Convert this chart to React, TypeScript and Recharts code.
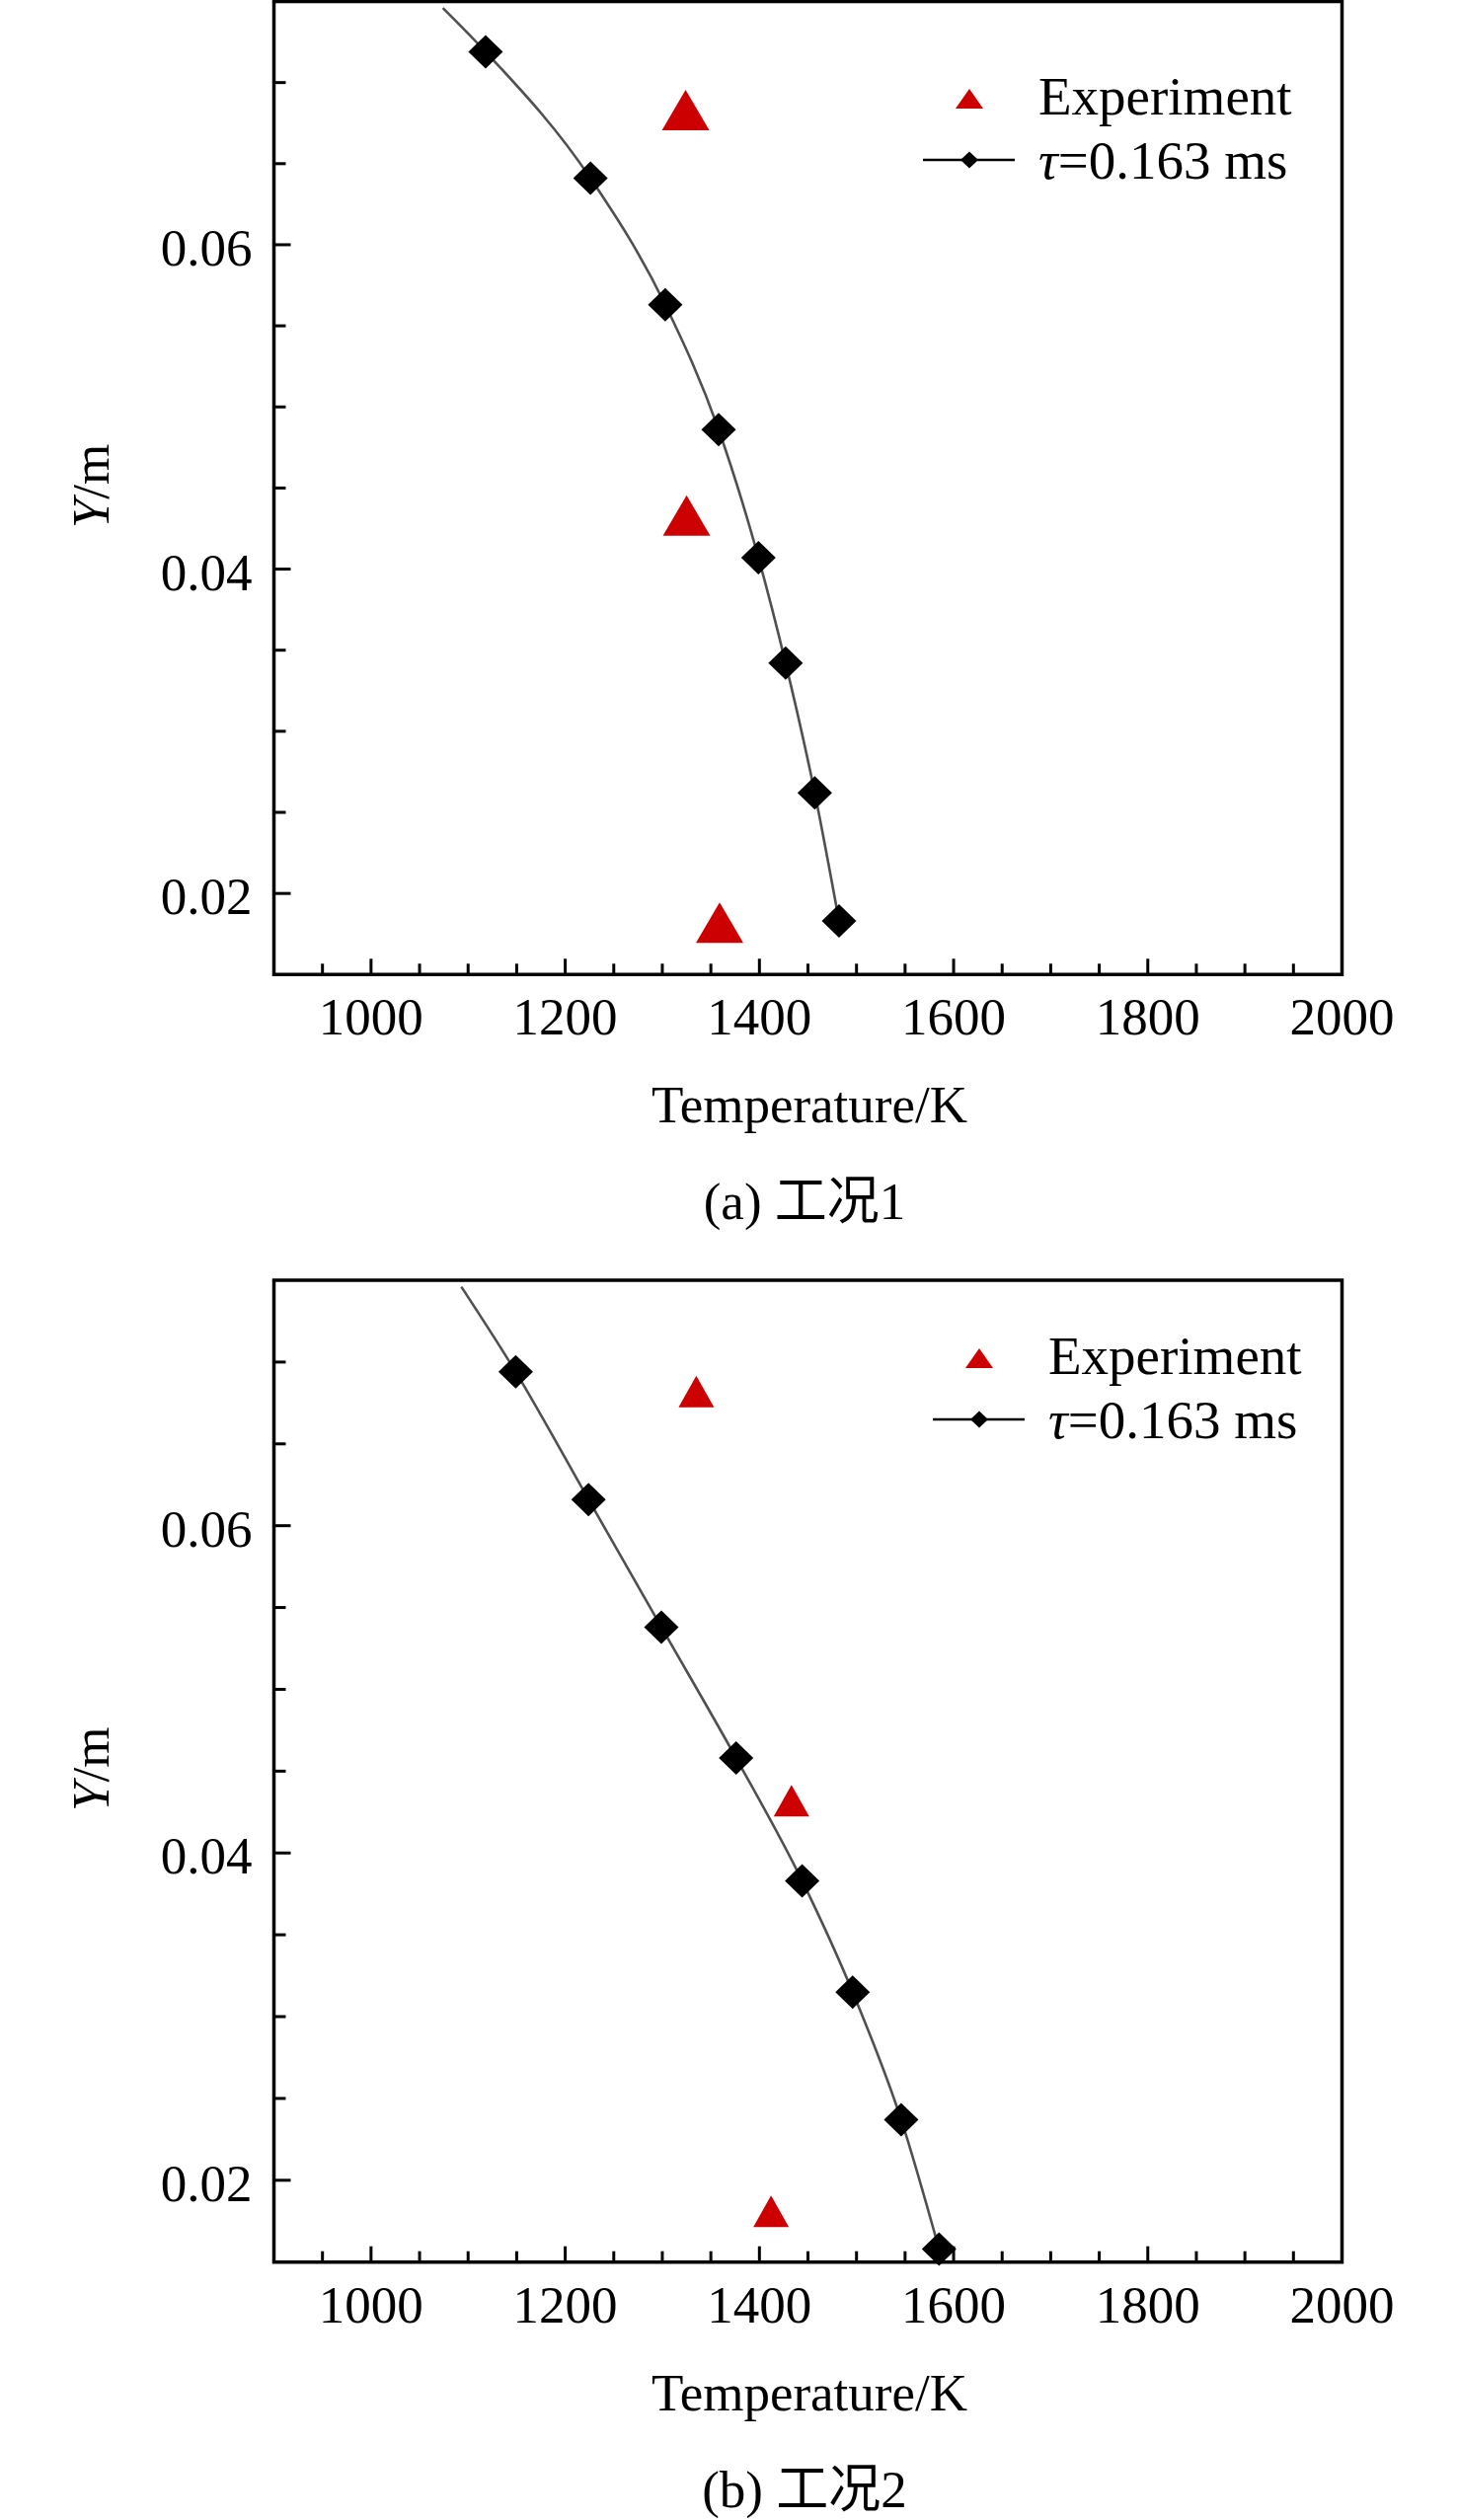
import React from 'react';
import { ComposedChart, Line, Scatter, XAxis, YAxis, ReferenceArea, Legend } from 'recharts';

const SERIF = "'Liberation Serif', 'Times New Roman', serif";
const CJK = "'Liberation Serif', 'Noto Sans CJK SC', serif";
const RED = '#cc0000';
const CURVE = '#505050';

// axis ticks (every tick is drawn, only the major ones get a label)
const xTicks = [950, 1000, 1050, 1100, 1150, 1200, 1250, 1300, 1350, 1400, 1450, 1500, 1550,
  1600, 1650, 1700, 1750, 1800, 1850, 1900, 1950, 2000];
const xLabelTicks = [1000, 1200, 1400, 1600, 1800, 2000];
const yTicks = [0.02, 0.025, 0.03, 0.035, 0.04, 0.045, 0.05, 0.055, 0.06, 0.065, 0.07];
const yLabelTicks = [0.02, 0.04, 0.06];

// case 1: simulated curve (first point is the curve end, no marker) and experiment
const simTempA = [1074, 1118, 1226, 1303, 1358, 1399, 1427, 1457, 1482];
const simYA = [0.0746, 0.0719, 0.0641, 0.0563, 0.0486, 0.0407, 0.0342, 0.0262, 0.0183];
const expTempA = [1324, 1325, 1359];
const expYA = [0.0683, 0.0433, 0.0182];

// case 2
const simTempB = [1093, 1149, 1224, 1299, 1376, 1444, 1496, 1546, 1585];
const simYB = [0.0746, 0.0694, 0.0616, 0.0538, 0.0458, 0.0383, 0.0315, 0.0237, 0.0158];
const expTempB = [1335, 1433, 1412];
const expYB = [0.0682, 0.0432, 0.0181];

const toPoints = (t: number[], y: number[]) => t.map((T, i) => ({ T, Y: y[i] }));

const diamondPath = (cx: number, cy: number, hw: number, hh: number) =>
  `M${cx},${cy - hh}L${cx + hw},${cy}L${cx},${cy + hh}L${cx - hw},${cy}Z`;

const trianglePoints = (cx: number, cy: number, w: number, h: number) =>
  `${cx},${cy - h / 2} ${cx + w / 2},${cy + h / 2} ${cx - w / 2},${cy + h / 2}`;

function XTick(props: any) {
  const { x, y, payload } = props;
  const major = xLabelTicks.includes(payload.value);
  return (
    <g>
      <line x1={x} x2={x} y1={y} y2={y - (major ? 16 : 11)} stroke="#000" strokeWidth={3} />
      {major && (
        <text x={x} y={y + 61} textAnchor="middle" fontSize={53} fontFamily={SERIF} fill="#000">
          {payload.value}
        </text>
      )}
    </g>
  );
}

function YTick(props: any) {
  const { x, y, payload } = props;
  const major = yLabelTicks.some((v) => Math.abs(v - payload.value) < 1e-9);
  return (
    <g>
      <line x1={x} x2={x + (major ? 17 : 12)} y1={y} y2={y} stroke="#000" strokeWidth={3} />
      {major && (
        <text x={x - 22} y={y + 21} textAnchor="end" fontSize={53} fontFamily={SERIF} fill="#000">
          {payload.value.toFixed(2)}
        </text>
      )}
    </g>
  );
}

function LegendBox() {
  return (
    <svg width={440} height={150} style={{ display: 'block', overflow: 'visible' }}>
      <polygon points={trianglePoints(62, 50, 28, 20)} fill={RED} />
      <text x={132} y={66} fontSize={55} fontFamily={SERIF} fill="#000">Experiment</text>
      <line x1={15} x2={108} y1={112} y2={112} stroke="#000" strokeWidth={2.5} />
      <path d={diamondPath(62, 112, 9, 8.5)} fill="#000" />
      <text x={132} y={131} fontSize={55} fontFamily={SERIF} fill="#000">
        <tspan fontStyle="italic">τ</tspan>=0.163 ms
      </text>
    </svg>
  );
}

interface PanelProps {
  simT: number[];
  simY: number[];
  expT: number[];
  expY: number[];
  triW: number;
  triH: number;
  caption: string;
  height: number;
  plotTop: number;
  plotBottom: number;
  legendLeft: number;
  legendTop: number;
}

function Panel(p: PanelProps) {
  const sim = toPoints(p.simT, p.simY);
  const exp = toPoints(p.expT, p.expY);
  const left = 277.5;
  const right = 1359.5;
  const midY = (p.plotTop + p.plotBottom) / 2 - 2;

  const renderDiamond = (d: any) => {
    if (d.index === 0 || d.cx == null) return <g key={`d-${d.index}`} />;
    return <path key={`d-${d.index}`} d={diamondPath(d.cx, d.cy, 17.5, 17)} fill="#000" />;
  };
  const renderTriangle = (d: any) => (
    <polygon points={trianglePoints(d.cx, d.cy, p.triW, p.triH)} fill={RED} />
  );

  return (
    <div style={{ width: 1476, height: p.height }}>
      <ComposedChart
        width={1476}
        height={p.height}
        margin={{ top: p.plotTop, right: 1476 - right, bottom: 0, left: 0 }}
      >
        <XAxis
          type="number"
          dataKey="T"
          domain={[900, 2000]}
          ticks={xTicks}
          interval={0}
          tick={(t: any) => <XTick {...t} />}
          tickSize={0}
          tickMargin={0}
          tickLine={false}
          axisLine={false}
          height={p.height - p.plotBottom}
        />
        <YAxis
          type="number"
          dataKey="Y"
          domain={[0.015, 0.075]}
          ticks={yTicks}
          interval={0}
          tick={(t: any) => <YTick {...t} />}
          tickSize={0}
          tickMargin={0}
          tickLine={false}
          axisLine={false}
          width={left}
        />
        <ReferenceArea
          x1={900}
          x2={2000}
          y1={0.015}
          y2={0.075}
          fill="none"
          stroke="#000"
          strokeWidth={3.5}
          ifOverflow="visible"
        />
        <Line
          data={sim}
          dataKey="Y"
          type="monotone"
          stroke={CURVE}
          strokeWidth={2.6}
          dot={renderDiamond}
          activeDot={false}
          isAnimationActive={false}
        />
        <Scatter data={exp} dataKey="Y" shape={renderTriangle} isAnimationActive={false} />
        <Legend
          layout="horizontal"
          verticalAlign="middle"
          content={() => <LegendBox />}
          wrapperStyle={{ left: p.legendLeft, top: p.legendTop, width: 440, height: 150 }}
        />
        <text
          x={110}
          y={midY}
          transform={`rotate(-90, 110, ${midY})`}
          textAnchor="middle"
          fontSize={53}
          fontFamily={SERIF}
          fill="#000"
        >
          <tspan fontStyle="italic">Y</tspan>/m
        </text>
        <text x={820} y={p.plotBottom + 150} textAnchor="middle" fontSize={53} fontFamily={SERIF} fill="#000">
          Temperature/K
        </text>
        <text x={815} y={p.plotBottom + 248} textAnchor="middle" fontSize={53} fontFamily={CJK} fill="#000">
          {p.caption}
        </text>
      </ComposedChart>
    </div>
  );
}

export default function App() {
  return (
    <div style={{ position: 'absolute', left: 0, top: 0, width: 1476, height: 2553, background: '#fff' }}>
      <Panel
        simT={simTempA}
        simY={simYA}
        expT={expTempA}
        expY={expYA}
        triW={48}
        triH={41}
        caption="(a) 工况1"
        height={1290}
        plotTop={1.5}
        plotBottom={987.3}
        legendLeft={920}
        legendTop={50}
      />
      <Panel
        simT={simTempB}
        simY={simYB}
        expT={expTempB}
        expY={expYB}
        triW={36}
        triH={32}
        caption="(b) 工况2"
        height={1263}
        plotTop={7}
        plotBottom={1001.7}
        legendLeft={929.5}
        legendTop={36}
      />
    </div>
  );
}
